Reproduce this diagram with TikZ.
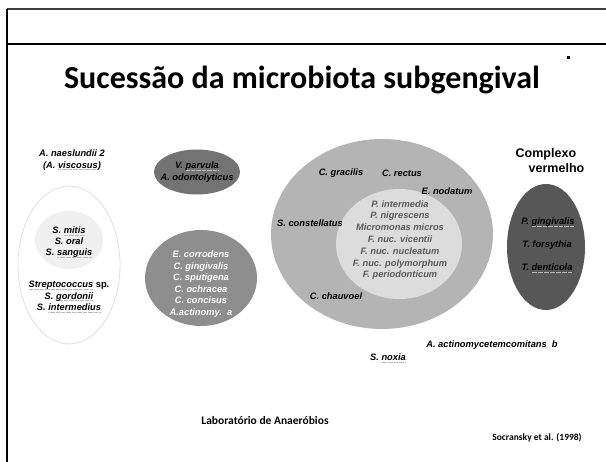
\documentclass[tikz,border=0pt]{standalone}
\usepackage{fontspec}
\setmainfont{Liberation Sans}
\newfontfamily\calib{Carlito}
\newcommand\sq[1]{\leavevmode\setbox0\hbox{#1}\rlap{\color{gray!55}\hbox to\wd0{\xleaders\hbox{\rule[-1.8pt]{0.7pt}{0.7pt}\kern0.5pt}\hfill}}\box0\relax}
\definecolor{vgray}{HTML}{737373}
\definecolor{cgray}{HTML}{8E8E8E}
\definecolor{bgray}{HTML}{B4B4B4}
\definecolor{igray}{HTML}{DCDCDC}
\definecolor{rgray}{HTML}{575757}
\definecolor{itxt}{HTML}{5A5A5A}
\usetikzlibrary{shapes.geometric}
\tikzset{
  blob/.style={ellipse, draw=none, inner sep=0pt},
  sp/.style={font=\fontsize{9.3}{11.6}\selectfont\bfseries\itshape, align=center, inner sep=0pt},
  frameline/.style={line width=2pt},
}
\begin{document}
\begin{tikzpicture}[x=1pt,y=-1pt]
\useasboundingbox (0,0) rectangle (606,462);
\fill[white] (0,0) rectangle (606,462);
% frame
\coordinate (tl) at (7,9);
\coordinate (tr) at (606,9);
\coordinate (ml) at (7,44);
\coordinate (mr) at (606,44);
\coordinate (bl) at (7,462);
\draw[frameline, draw=black!75] (tl) -- (tr);
\draw[frameline] (ml) -- (mr);
\draw[frameline] (tl) -- (bl);
\fill (567,56) rectangle (570,59);
% title
\node[font=\calib\bfseries\fontsize{32}{36}\selectfont, inner sep=0pt] (title) at (302,80) {Sucessão da microbiota subgengival};

% left group
\draw[draw=black!12, line width=0.8pt, fill=white] (69,265) ellipse [x radius=51, y radius=79];
\fill[black!6] (69,240) ellipse [x radius=34, y radius=29];
\node[sp] (nae) at (72,160) {A. naeslundii 2\\(A. \sq{viscosus})};
\node[sp, font=\fontsize{9.3}{11}\selectfont\bfseries\itshape] (mitis) at (69,242) {S. \sq{mitis}\\S. oral\\S. \sq{sanguis}};
\node[sp] (strep) at (69,297) {\sq{Streptococcus} \upshape sp.\\S. \sq{gordonii}\\S. \sq{intermedius}};

% V. parvula
\node[blob, fill=vgray, minimum width=86, minimum height=45] (vp) at (197,172) {};
\node[sp, font=\fontsize{9.3}{12}\selectfont\bfseries\itshape] (vpt) at (197,172) {V. \sq{parvula}\\A. odontolyticus};

% E. corrodens
\node[blob, fill=cgray, minimum width=112, minimum height=96] (ec) at (201,278) {};
\node[sp, text=white] (ect) at (201,284) {E. corrodens\\C. gingivalis\\C. sputigena\\C. ochracea\\C. concisus\\A.actinomy.\ \ a};

% big orange complex
\node[blob, fill=bgray, minimum width=222, minimum height=190] (big) at (382,234) {};
\node[blob, fill=igray, minimum width=126, minimum height=110] (inner) at (399,244) {};
\node[sp, text=itxt, font=\fontsize{9.3}{11.8}\selectfont\bfseries\itshape] (innert) at (400,240) {P. intermedia\\P. nigrescens\\Micromonas micros\\F. nuc. vicentii\\F. nuc. nucleatum\\F. nuc. polymorphum\\F. periodonticum};
\node[sp] (cgr) at (341,173) {C. gracilis};
\node[sp] (cre) at (402,173) {C. rectus};
\node[sp] (eno) at (447,191) {E. nodatum};
\node[sp] (sco) at (310,223) {S. constellatus};
\node[sp] (cch) at (336,296) {C. chauvoel};

% red complex
\node[font=\fontsize{12.5}{15}\selectfont\bfseries, align=left, inner sep=0pt] (cv) at (550,161) {Complexo\\\hspace*{13pt}vermelho};
\node[blob, fill=rgray, minimum width=78, minimum height=126] (red) at (546,247) {};
\node[sp] (pg) at (548,222) {P. \sq{gingivalis}};
\node[sp] (tf) at (547,245) {T. forsythia};
\node[sp] (td) at (547,268) {T. \sq{denticola}};

% others
\node[sp] (aa) at (492,345) {A. actinomycetemcomitans\ \ b};
\node[sp] (sn) at (388,358) {S. \sq{noxia}};

\node[font=\calib\bfseries\fontsize{11.5}{13}\selectfont, inner sep=0pt] (lab) at (265,421) {Laboratório de Anaeróbios};
\node[font=\calib\bfseries\fontsize{9.5}{11}\selectfont, inner sep=0pt] (soc) at (537,438) {Socransky et al. (1998)};
\end{tikzpicture}
\end{document}
